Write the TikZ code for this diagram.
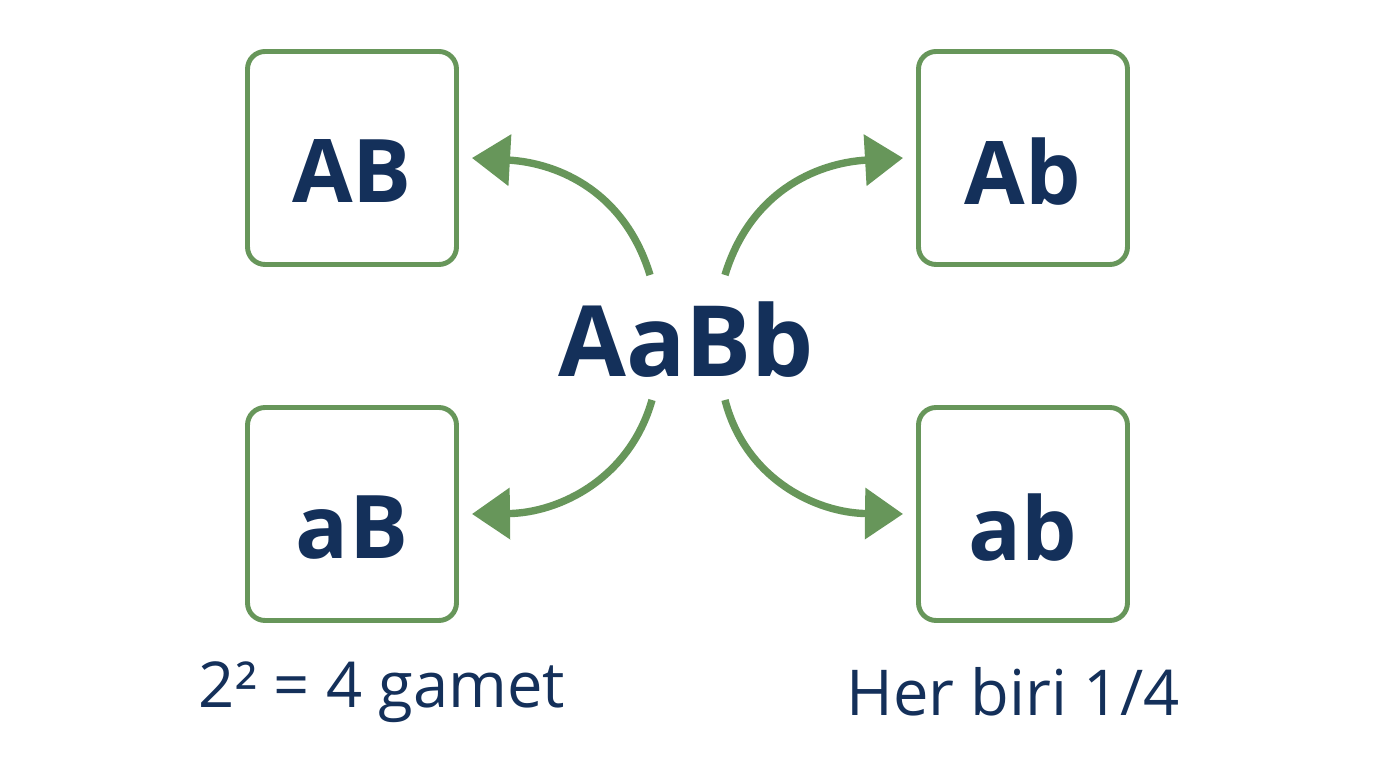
\documentclass[tikz,border=0pt]{standalone}
\usepackage{fontspec}
\setmainfont{Open Sans}
\usetikzlibrary{arrows.meta, positioning}
\definecolor{navy}{HTML}{14305A}
\definecolor{leaf}{HTML}{67965A}
\newcommand{\gam}[1]{\raisebox{-0.13cm}[\height][0pt]{#1}}
\begin{document}
\begin{tikzpicture}[
    % gamete boxes
    gbox/.style={
        rectangle, draw=leaf, rounded corners=5pt, line width=1.4pt,
        minimum width=2.09cm, minimum height=2.13cm,
        text=navy, font=\fontsize{25}{25}\selectfont\bfseries
    },
    arrow/.style={-{Triangle[length=0.38cm, width=0.5cm]}, leaf, line width=2.1pt},
    note/.style={text=navy, font=\fontsize{18}{18}\selectfont},
]
\useasboundingbox (0,0) rectangle (13.76,7.68);

% parent genotype
\node[text=navy, font=\fontsize{28}{28}\selectfont\bfseries] (parent) at (6.86,4.28) {AaBb};

% gametes
\node[gbox] (AB) at (3.52,6.10) {\gam{AB}};
\node[gbox] (Ab) at (10.23,6.10) {\gam{Ab}};
\node[gbox] (aB) at (3.52,2.54) {\gam{aB}};
\node[gbox] (ab) at (10.23,2.54) {\gam{ab}};

% arrow ends
\coordinate (s1) at (6.50,4.93);
\coordinate (s2) at (7.25,4.93);
\coordinate (s3) at (6.52,3.68);
\coordinate (s4) at (7.25,3.68);

\draw[arrow] (s1) .. controls (6.25,5.75) and (5.60,6.05) .. ([xshift=0.13cm]AB.east);
\draw[arrow] (s2) .. controls (7.50,5.75) and (8.15,6.05) .. ([xshift=-0.13cm]Ab.west);
\draw[arrow] (s3) .. controls (6.30,2.90) and (5.60,2.55) .. ([xshift=0.13cm]aB.east);
\draw[arrow] (s4) .. controls (7.45,2.90) and (8.15,2.55) .. ([xshift=-0.13cm]ab.west);

% notes
\node[note] (count) at (3.82,0.76) {2² = 4 gamet};
\node[note] (ratio) at (10.13,0.76) {Her biri 1/4};

\end{tikzpicture}
\end{document}
